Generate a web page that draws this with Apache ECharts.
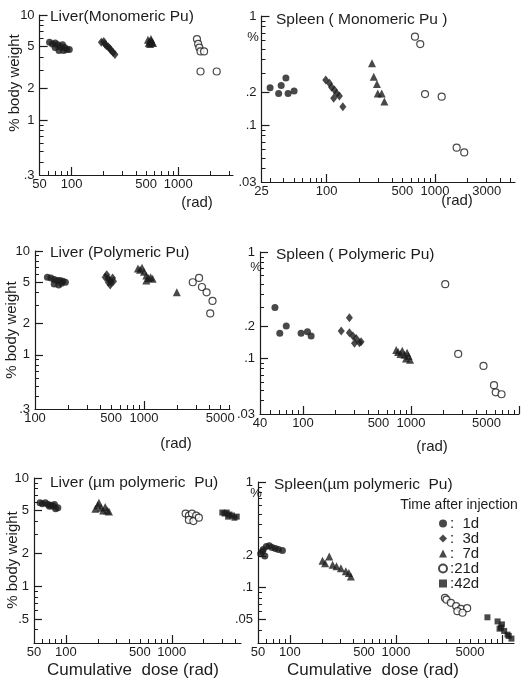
<!DOCTYPE html>
<html><head><meta charset="utf-8">
<script src="https://cdn.jsdelivr.net/npm/echarts@6/dist/echarts.min.js"></script>
<style>html,body{margin:0;padding:0;background:#fff}#c{width:522px;height:682px}</style>
</head><body><div id="c"></div>
<script>
// ===== data: [cumulative dose (rad), % body weight] =====
const liverMono1d  = [[62,5.5],[66,5.3],[70,5.4],[74,5.2],[78,5.0],[82,5.2],[86,4.9],[90,4.7],[95,4.7],[70,4.9],[76,4.6],[84,4.6]];
const liverMono3d  = [[190,5.5],[200,5.6],[205,5.3],[212,5.1],[220,5.0],[228,4.8],[235,4.6],[245,4.4],[255,4.2]];
const liverMono7d  = [[520,5.8],[540,5.6],[560,5.7],[545,5.3],[580,5.4],[530,5.4],[570,5.5],[555,5.9]];
const liverMono21d = [[1500,5.9],[1540,5.3],[1580,4.9],[1620,4.5],[1750,4.5],[1620,2.9],[2300,2.9]];

const spleenMono1d  = [[30,0.22],[38,0.23],[42,0.27],[36,0.195],[44,0.195],[50,0.205]];
const spleenMono3d  = [[98,0.259],[106,0.241],[111,0.222],[118,0.21],[124,0.195],[131,0.185],[116,0.176],[141,0.147]];
const spleenMono7d  = [[262,0.368],[272,0.277],[291,0.238],[296,0.195],[322,0.195],[341,0.164]];
const spleenMono21d = [[653,0.646],[731,0.553],[809,0.192],[1153,0.182],[1585,0.062],[1862,0.056]];

const liverPoly1d  = [[130,5.6],[140,5.5],[150,5.3],[160,5.2],[170,5.2],[180,5.1],[190,5.0],[150,4.8],[165,4.7],[175,4.9]];
const liverPoly3d  = [[440,5.6],[455,5.9],[470,5.4],[485,5.2],[500,5.0],[515,5.5],[490,4.7],[525,5.1],[470,5.0]];
const liverPoly7d  = [[880,6.8],[920,6.6],[960,6.9],[1000,6.3],[1050,5.8],[1100,5.5],[1150,5.6],[1200,5.4],[1050,5.2],[2000,4.0]];
const liverPoly21d = [[2800,5.0],[3200,5.5],[3400,4.5],[3750,4.0],[4250,3.3],[4050,2.5]];

const spleenPoly1d  = [[55,0.30],[61,0.172],[70,0.201],[96,0.172],[110,0.178],[119,0.162]];
const spleenPoly3d  = [[269,0.241],[226,0.181],[269,0.174],[290,0.162],[311,0.154],[333,0.140],[345,0.143],[300,0.139]];
const spleenPoly7d  = [[730,0.12],[760,0.115],[800,0.11],[830,0.118],[870,0.108],[900,0.10],[950,0.105],[980,0.097],[920,0.113]];
const spleenPoly21d = [[2075,0.498],[2735,0.11],[4690,0.085],[5870,0.056],[6090,0.048],[6890,0.046]];

const liverUm1d  = [[57,5.9],[60,5.8],[64,5.9],[68,5.7],[72,5.6],[76,5.5],[80,5.2],[84,5.3],[78,5.7],[70,5.5]];
const liverUm7d  = [[190,5.2],[200,5.6],[205,5.9],[215,5.3],[225,5.0],[235,5.4],[245,5.0],[255,4.9]];
const liverUm21d = [[1350,4.7],[1450,4.5],[1550,4.7],[1700,4.5],[1450,4.1],[1600,4.0],[1800,4.3]];
const liverUm42d = [[3000,4.8],[3150,4.7],[3300,4.8],[3500,4.6],[3700,4.5],[3900,4.3],[4100,4.4],[3400,4.4]];

const spleenUm1d  = [[53,0.21],[56,0.23],[60,0.245],[64,0.25],[68,0.24],[73,0.235],[78,0.23],[85,0.225],[58,0.20],[55,0.22]];
const spleenUm7d  = [[203,0.18],[215,0.17],[235,0.197],[253,0.165],[275,0.16],[303,0.153],[337,0.143],[360,0.138],[376,0.128]];
const spleenUm21d = [[2900,0.080],[3000,0.077],[3300,0.072],[3700,0.067],[4100,0.063],[4700,0.064],[3800,0.060],[4250,0.058]];
const spleenUm42d = [[7300,0.0525],[9100,0.048],[9800,0.042],[10500,0.039],[11300,0.036],[12300,0.033],[10000,0.045],[11600,0.035],[9500,0.041]];

// ===== tick labels =====
const doseLabelsLiverMono  = [50,100,500,1000];
const doseLabelsSpleenMono = [25,100,500,1000,3000];
const doseLabelsLiverPoly  = [100,500,1000,5000];
const doseLabelsSpleenPoly = [40,100,500,1000,5000];
const doseLabelsLiverUm    = [50,100,500,1000];
const doseLabelsSpleenUm   = [50,100,500,1000,5000];
const pctLabelsLiver       = [0.3,1,2,5,10];
const pctLabelsLiverUm     = [0.5,1,2,5,10];
const pctLabelsSpleen      = [0.03,0.1,0.2,1];
const pctLabelsSpleenUm    = [0.05,0.1,0.2,1];

const groups = ['1d','3d','7d','21d','42d'];

// ===== layout =====
const FONT = 'Liberation Sans';
const INK = '#1c1c1c';
const panels = [
  {grid:{left:39.6,top:15,width:193.4,height:160}, xr:[50,3270], yr:[0.3,10], xl:doseLabelsLiverMono, yl:pctLabelsLiver,
   sets:{'1d':liverMono1d,'3d':liverMono3d,'7d':liverMono7d,'21d':liverMono21d}},
  {grid:{left:261.5,top:16,width:253.5,height:166}, xr:[25,5480], yr:[0.03,1], xl:doseLabelsSpleenMono, yl:pctLabelsSpleen,
   sets:{'1d':spleenMono1d,'3d':spleenMono3d,'7d':spleenMono7d,'21d':spleenMono21d}},
  {grid:{left:35,top:251,width:195,height:158}, xr:[100,6150], yr:[0.3,10], xl:doseLabelsLiverPoly, yl:pctLabelsLiver,
   sets:{'1d':liverPoly1d,'3d':liverPoly3d,'7d':liverPoly7d,'21d':liverPoly21d}},
  {grid:{left:260,top:252,width:259,height:162}, xr:[40,10000], yr:[0.03,1], xl:doseLabelsSpleenPoly, yl:pctLabelsSpleen,
   sets:{'1d':spleenPoly1d,'3d':spleenPoly3d,'7d':spleenPoly7d,'21d':spleenPoly21d}},
  {grid:{left:34,top:478,width:207,height:165}, xr:[50,4500], yr:[0.3,10], xl:doseLabelsLiverUm, yl:pctLabelsLiverUm,
   sets:{'1d':liverUm1d,'7d':liverUm7d,'21d':liverUm21d,'42d':liverUm42d}},
  {grid:{left:258,top:482,width:256,height:161}, xr:[50,13000], yr:[0.03,1], xl:doseLabelsSpleenUm, yl:pctLabelsSpleenUm,
   sets:{'1d':spleenUm1d,'7d':spleenUm7d,'21d':spleenUm21d,'42d':spleenUm42d}}
];

const markStyle = {
  '1d':  {symbol:'circle',   symbolSize:7,     itemStyle:{color:INK}},
  '3d':  {symbol:'diamond',  symbolSize:[7,9], itemStyle:{color:INK}},
  '7d':  {symbol:'triangle', symbolSize:8,     itemStyle:{color:INK}},
  '21d': {symbol:'circle',   symbolSize:7,     itemStyle:{color:'#fff', borderColor:INK, borderWidth:1.2}},
  '42d': {symbol:'rect',     symbolSize:6,     itemStyle:{color:INK}}
};

function logTicks(lo, hi) {
  const out = [];
  for (let e = Math.floor(Math.log10(lo)) - 1; e <= Math.ceil(Math.log10(hi)); e++) {
    for (let k = 1; k <= 9; k++) {
      const v = +(k * Math.pow(10, e)).toPrecision(6);
      if (v > lo * 1.0001 && v <= hi * 1.0001) out.push(v);
    }
  }
  return out;
}
function decades(lo, hi) {
  const out = [];
  for (let e = Math.floor(Math.log10(lo)); e <= Math.ceil(Math.log10(hi)); e++) {
    const v = Math.pow(10, e);
    if (v > lo * 1.0001 && v <= hi * 1.0001) out.push(v);
  }
  return out;
}
function fmt(v) {
  const s = String(+(+v).toPrecision(6));
  return v < 1 ? s.replace(/^0/, '') : s;
}

const grids = [], xAxis = [], yAxis = [], series = [];
const labelStyle = {color:INK, fontFamily:FONT, fontSize:13};
const N = panels.length;
panels.forEach((p, i) => {
  grids[i] = Object.assign({}, p.grid);
  grids[N + i] = Object.assign({}, p.grid);   // overlay grid for the long ticks
  xAxis[i] = {type:'log', gridIndex:i, min:p.xr[0], max:p.xr[1],
    axisLine:{show:true, lineStyle:{color:INK, width:1.2}},
    axisTick:{show:true, inside:true, length:4, customValues:logTicks(p.xr[0], p.xr[1]), lineStyle:{color:INK, width:1}},
    axisLabel:Object.assign({customValues:p.xl, formatter:fmt, margin:3, hideOverlap:false}, labelStyle),
    splitLine:{show:false}};
  yAxis[i] = {type:'log', gridIndex:i, min:p.yr[0], max:p.yr[1],
    axisLine:{show:true, lineStyle:{color:INK, width:1.2}},
    axisTick:{show:true, inside:true, length:4, customValues:logTicks(p.yr[0], p.yr[1]), lineStyle:{color:INK, width:1}},
    axisLabel:Object.assign({customValues:p.yl, formatter:fmt, margin:5, hideOverlap:false}, labelStyle),
    splitLine:{show:false}};
  xAxis[N + i] = {type:'log', gridIndex:N + i, min:p.xr[0], max:p.xr[1],
    axisLine:{show:false},
    axisTick:{show:true, inside:true, length:8, customValues:decades(p.xr[0], p.xr[1]), lineStyle:{color:INK, width:1.2}},
    axisLabel:{show:false}, splitLine:{show:false}};
  yAxis[N + i] = {type:'log', gridIndex:N + i, min:p.yr[0], max:p.yr[1],
    axisLine:{show:false},
    axisTick:{show:true, inside:true, length:8, customValues:p.yl.filter(v => v > p.yr[0] * 1.0001), lineStyle:{color:INK, width:1.2}},
    axisLabel:{show:false}, splitLine:{show:false}};
  groups.forEach(g => {
    if (!p.sets[g]) return;
    series.push(Object.assign({type:'scatter', name:g, xAxisIndex:i, yAxisIndex:i, data:p.sets[g]}, markStyle[g]));
  });
});

function txt(text, x, y, size, opts) {
  return Object.assign({type:'text', x:x, y:y, silent:true,
    style:Object.assign({text:text, font:size + 'px "' + FONT + '"', fill:INK, textAlign:'left', textVerticalAlign:'middle'}, (opts && opts.style) || {})},
    (opts && opts.el) || {});
}
const center = {style:{textAlign:'center'}};
const vert = {style:{textAlign:'center'}, el:{rotation:Math.PI/2}};
const graphic = [
  txt('Liver(Monomeric Pu)', 50, 17, 15.5),
  txt('Spleen ( Monomeric Pu )', 276, 20, 15.5),
  txt('Liver (Polymeric Pu)', 50, 253, 15.5),
  txt('Spleen ( Polymeric Pu)', 276, 255, 15.5),
  txt('Liver (\u00b5m polymeric  Pu)', 50, 483, 15.5),
  txt('Spleen(\u00b5m polymeric  Pu)', 274, 485, 15.5),
  txt('% body weight', 15, 83, 15, vert),
  txt('% body weight', 12, 330, 15, vert),
  txt('% body weight', 13, 560, 15, vert),
  txt('%', 253, 37, 13, center),
  txt('%', 256, 267, 13, center),
  txt('%', 256, 493, 13, center),
  txt('(rad)', 197, 203, 15, center),
  txt('(rad)', 457, 201, 15, center),
  txt('(rad)', 176, 444, 15, center),
  txt('(rad)', 432, 447, 15, center),
  txt('Cumulative  dose (rad)', 133, 670, 17, center),
  txt('Cumulative  dose (rad)', 373, 670, 17, center),
  txt('Time after injection', 459, 505, 14, center)
];

const chart = echarts.init(document.getElementById('c'));
chart.setOption({animation:false, grid:grids, xAxis, yAxis, series});
try {
  const model = chart.getModel();
  ['xAxis', 'yAxis'].forEach(k => {
    model.getComponents(k).forEach(c => { if (c.axis) c.axis.getTicksCoords(); });
  });
} catch (e) {}
chart.setOption({
  graphic,
  legend:{orient:'vertical', left:433, top:511, itemWidth:8, itemHeight:8, itemGap:0,
    data:groups, selectedMode:false,
    formatter: n => ':' + (n.length < 3 ? '  ' : '') + n,
    textStyle:{color:INK, fontFamily:FONT, fontSize:15, padding:[0,0,0,-2]}}
});
chart.resize();
</script>
</body></html>
